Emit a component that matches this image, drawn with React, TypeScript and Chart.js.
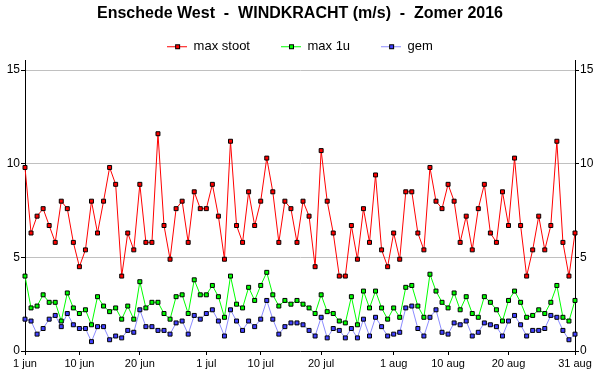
import { useEffect, useRef } from 'react';
import { Chart, registerables } from 'chart.js';

Chart.register(...registerables);

const months: [string, number][] = [['jun', 30], ['jul', 31], ['aug', 31]];
const days: string[] = [];
months.forEach(([m, n]) => { for (let d = 1; d <= n; d++) days.push(`${d} ${m}`); });

const tickDays = ['1 jun', '10 jun', '20 jun', '1 jul', '10 jul', '20 jul', '1 aug', '10 aug', '20 aug', '31 aug'];

const maxStoot = [
  9.8, 6.3, 7.2, 7.6, 6.7, 5.8, 8.0, 7.6, 5.8, 4.5, 5.4, 8.0, 6.3, 8.0, 9.8, 8.9,
  4.0, 6.3, 5.4, 8.9, 5.8, 5.8, 11.6, 6.7, 4.9, 7.6, 8.0, 5.8, 8.5, 7.6, 7.6,
  8.9, 7.2, 4.9, 11.2, 6.7, 5.8, 8.5, 6.7, 8.0, 10.3, 8.5, 5.8, 8.0, 7.6, 5.8,
  8.0, 7.2, 4.5, 10.7, 8.0, 6.3, 4.0, 4.0, 6.7, 4.9, 7.6, 5.8, 9.4, 5.4, 4.5,
  6.3, 4.9, 8.5, 8.5, 6.3, 5.4, 9.8, 8.0, 7.6, 8.9, 8.0, 5.8, 7.2, 5.4, 7.6,
  8.9, 6.3, 5.8, 8.5, 6.7, 10.3, 6.7, 4.0, 5.4, 7.2, 5.4, 6.7, 11.2, 5.8, 4.0, 6.3,
];

const max1u = [
  4.0, 2.3, 2.4, 3.0, 2.6, 2.6, 1.6, 3.1, 2.3, 2.0, 2.2, 1.4, 2.9, 2.4, 2.1, 2.3,
  1.7, 2.4, 1.7, 3.7, 2.3, 2.6, 2.6, 2.0, 1.7, 2.9, 3.0, 2.0, 3.8, 3.0, 3.0,
  3.5, 2.9, 1.8, 4.0, 2.5, 2.3, 3.4, 2.7, 3.5, 4.2, 3.0, 2.4, 2.7, 2.5, 2.7,
  2.5, 2.3, 2.0, 3.0, 2.1, 2.0, 1.6, 1.5, 2.9, 1.4, 3.2, 2.3, 3.2, 2.3, 1.7,
  2.3, 1.8, 3.4, 3.5, 2.4, 1.8, 4.1, 3.2, 2.6, 2.3, 3.1, 2.2, 2.9, 2.0, 1.8,
  2.9, 2.6, 2.2, 1.6, 2.7, 3.2, 2.6, 1.8, 1.9, 2.2, 2.0, 2.6, 3.5, 1.8, 1.6, 2.7,
];

const gem = [
  1.7, 1.6, 0.9, 1.2, 1.7, 1.9, 1.3, 2.0, 1.4, 1.2, 1.2, 0.5, 1.3, 1.3, 0.6, 0.8,
  0.7, 1.1, 1.0, 2.2, 1.3, 1.3, 1.1, 1.1, 0.9, 1.5, 1.6, 0.9, 1.9, 1.7, 2.0,
  2.2, 1.6, 0.8, 2.2, 1.6, 1.1, 1.6, 1.3, 1.7, 2.7, 1.7, 0.9, 1.3, 1.5, 1.5,
  1.4, 1.1, 0.8, 1.8, 0.7, 1.2, 1.1, 0.7, 1.2, 0.7, 1.7, 0.8, 1.8, 1.3, 0.8,
  0.9, 1.0, 2.3, 2.4, 1.2, 0.8, 1.8, 2.2, 1.0, 0.9, 1.5, 1.4, 1.6, 0.8, 1.0,
  1.5, 1.4, 1.3, 0.8, 1.6, 1.9, 1.4, 0.8, 1.1, 1.1, 1.2, 1.9, 1.8, 1.1, 0.6, 0.9,
];

const seriesNames = ['max stoot', 'max 1u', 'gem'];
const lineColors = ['#ff0000', '#00ff00', '#8c8cff'];
const markerColors = ['#ff0000', '#00ff00', '#4040ff'];
const yTicks = [0, 5, 10, 15];

function legendIcon(line: string, fill: string): HTMLCanvasElement {
  const c = document.createElement('canvas');
  c.width = 20;
  c.height = 9;
  const g = c.getContext('2d')!;
  g.fillStyle = line;
  g.fillRect(0, 4, 20, 1);
  g.fillStyle = '#000';
  g.fillRect(8, 2, 5, 5);
  g.fillStyle = fill;
  g.fillRect(9, 3, 3, 3);
  return c;
}

export default function App() {
  const ref = useRef<HTMLCanvasElement | null>(null);

  useEffect(() => {
    if (!ref.current) return;
    Chart.defaults.font.family = "'Liberation Sans', Arial, sans-serif";
    Chart.defaults.color = '#000';
    const icons = lineColors.map((c, i) => legendIcon(c, markerColors[i]));
    const seriesData = [maxStoot, max1u, gem];

    const yAxis = (position: 'left' | 'right') => ({
      type: 'linear' as const,
      position,
      min: 0,
      max: 15.5,
      afterBuildTicks: (axis: any) => {
        axis.ticks = yTicks.map((v) => ({ value: v }));
      },
      ticks: { color: '#000', font: { size: 12 }, padding: 1 },
      grid: {
        drawOnChartArea: position === 'left',
        color: (ctx: any) => (ctx.tick && ctx.tick.value === 0 ? 'rgba(0,0,0,0)' : '#c0c0c0'),
        tickColor: '#000',
        tickLength: 4,
        lineWidth: 1,
      },
      border: { color: '#000', width: 1 },
      afterFit: (s: any) => { s.width = 25; },
    });

    const chart = new Chart(ref.current, {
      type: 'line',
      data: {
        labels: days,
        datasets: seriesData.map((d, i) => ({
          label: seriesNames[i],
          data: d,
          borderColor: lineColors[i],
          backgroundColor: markerColors[i],
          pointBackgroundColor: markerColors[i],
          pointBorderColor: '#000',
          pointBorderWidth: 1,
          pointStyle: 'rect',
          pointRadius: 2.8,
          borderWidth: 1,
          tension: 0,
          fill: false,
          yAxisID: 'y',
        })),
      },
      options: {
        responsive: false,
        animation: false,
        devicePixelRatio: 1,
        events: [],
        layout: { padding: 0 },
        plugins: {
          tooltip: { enabled: false },
          title: {
            display: true,
            text: 'Enschede West  -  WINDKRACHT (m/s)  -  Zomer 2016',
            color: '#000',
            font: { size: 16, weight: 'bold' },
            padding: { top: 4, bottom: -14 },
          },
          legend: {
            display: true,
            position: 'top',
            maxHeight: 51.5,
            labels: {
              usePointStyle: true,
              pointStyleWidth: 20,
              padding: 31,
              color: '#000',
              font: { size: 13 },
              generateLabels: () =>
                seriesNames.map((name, i) => ({
                  text: name,
                  pointStyle: icons[i] as any,
                  fillStyle: markerColors[i],
                  strokeStyle: '#000',
                  lineWidth: 0,
                  hidden: false,
                  datasetIndex: i,
                  fontColor: '#000',
                })),
            },
          },
        },
        scales: {
          x: {
            type: 'category',
            afterBuildTicks: (axis: any) => {
              axis.ticks = axis.ticks.filter((t: any) => tickDays.includes(days[t.value]));
            },
            ticks: { autoSkip: false, maxRotation: 0, minRotation: 0, color: '#000', font: { size: 11 }, padding: 2 },
            grid: { drawOnChartArea: false, tickColor: '#000', tickLength: 4 },
            border: { color: '#000', width: 1 },
            afterFit: (s: any) => { s.height = 39; },
          },
          y: yAxis('left'),
          y2: yAxis('right'),
        },
      } as any,
    });
    return () => chart.destroy();
  }, []);

  return (
    <div style={{ position: 'absolute', left: 0, top: 0, width: 600, height: 390, background: '#fff' }}>
      <canvas ref={ref} width={600} height={390} />
    </div>
  );
}
